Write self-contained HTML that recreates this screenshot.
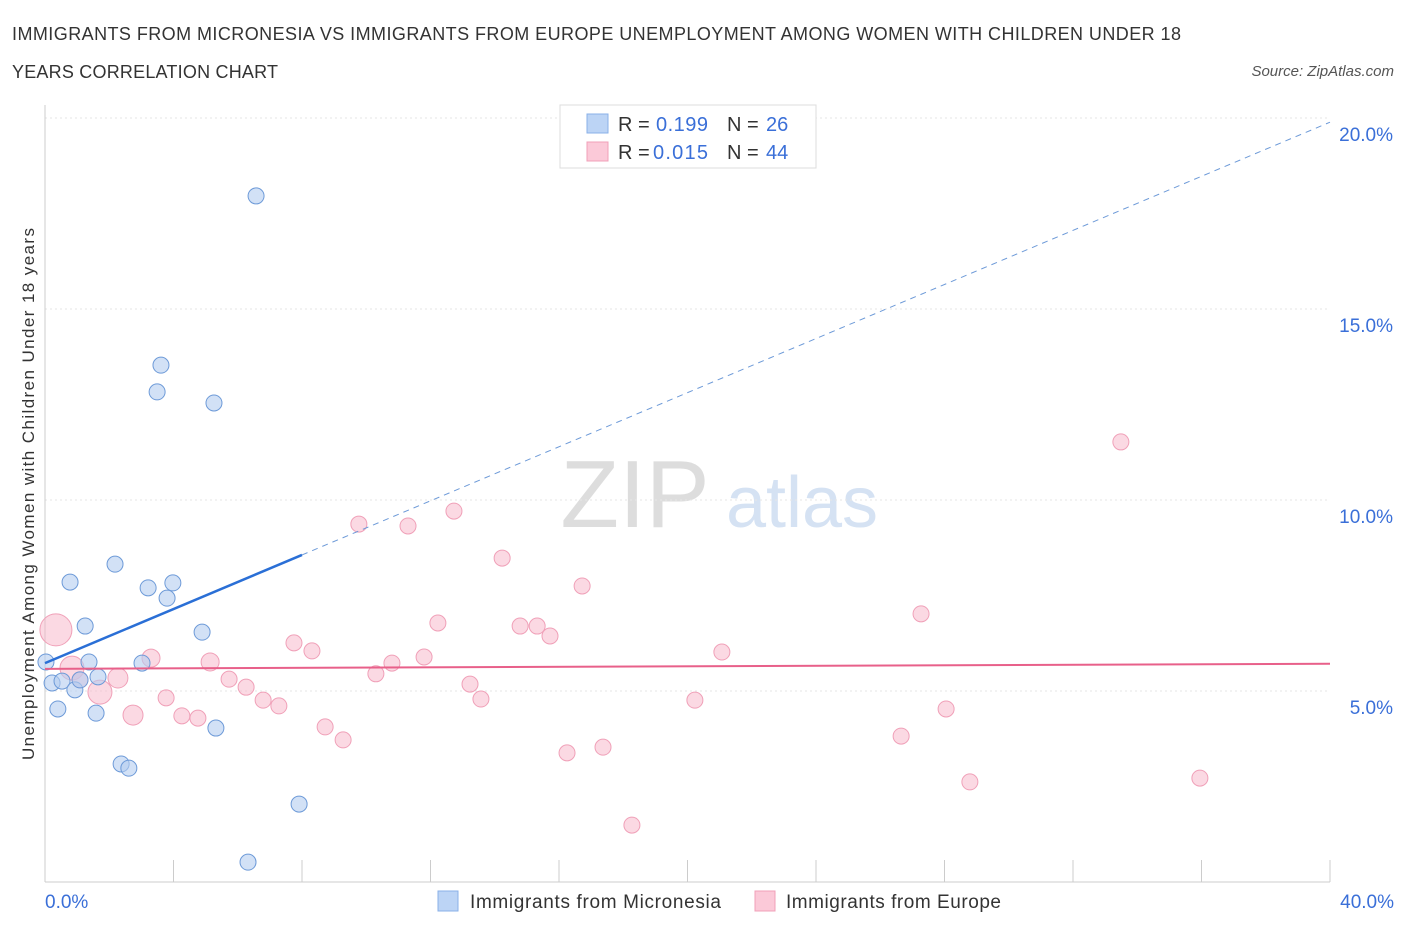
<!DOCTYPE html>
<html><head><meta charset="utf-8"><style>
body{margin:0;background:#fff;font-family:"Liberation Sans",sans-serif;}
svg text{font-family:"Liberation Sans",sans-serif;}
</style></head><body>
<svg id="c" width="1406" height="930" xmlns="http://www.w3.org/2000/svg">
<text x="12" y="40" font-size="18" fill="#333" textLength="1169">IMMIGRANTS FROM MICRONESIA VS IMMIGRANTS FROM EUROPE UNEMPLOYMENT AMONG WOMEN WITH CHILDREN UNDER 18</text>
<text x="12" y="78" font-size="18" fill="#333" textLength="266">YEARS CORRELATION CHART</text>
<text x="1394" y="76" font-size="15" fill="#555" font-style="italic" text-anchor="end">Source: ZipAtlas.com</text>
<text x="635" y="527" font-size="96" fill="#ddd" font-family="Liberation Serif" text-anchor="middle">ZIP</text>
<text x="802" y="527" font-size="72" fill="#d5e2f3" text-anchor="middle">atlas</text>
<g id="grid"></g><g id="marks"></g>
<text transform="translate(34,494) rotate(-90)" font-size="17" fill="#333" text-anchor="middle" textLength="532">Unemployment Among Women with Children Under 18 years</text>
<text x="45" y="908" font-size="19" fill="#3a6fd8">0.0%</text>
<text x="1394" y="908" font-size="19" fill="#3a6fd8" text-anchor="end">40.0%</text>
<rect x="560" y="105" width="256" height="63" fill="#fff" stroke="#ddd"/>
<rect x="587" y="114" width="21" height="19" fill="#bcd4f5" stroke="#8ab0e8"/>
<rect x="587" y="142" width="21" height="19" fill="#fbc9d8" stroke="#f0a0b8"/>
<text y="131" font-size="20" fill="#333"><tspan x="618">R =</tspan><tspan x="656" fill="#3a6fd8" textLength="52">0.199</tspan><tspan x="727">N =</tspan><tspan x="766" fill="#3a6fd8">26</tspan></text>
<text y="159" font-size="20" fill="#333"><tspan x="618">R =</tspan><tspan x="653" fill="#3a6fd8" textLength="55">0.015</tspan><tspan x="727">N =</tspan><tspan x="766" fill="#3a6fd8">44</tspan></text>
<rect x="438" y="891" width="20" height="20" fill="#bcd4f5" stroke="#8ab0e8"/>
<text x="470" y="908" font-size="19" fill="#333" textLength="251">Immigrants from Micronesia</text>
<rect x="755" y="891" width="20" height="20" fill="#fbc9d8" stroke="#f0a0b8"/>
<text x="786" y="908" font-size="19" fill="#333" textLength="215">Immigrants from Europe</text>
</svg>
<script>
const yTicks=[5,10,15,20];
const yTickLabels=["5.0%","10.0%","15.0%","20.0%"];
const xTicks=[0,4,8,12,16,20,24,28,32,36,40];
const blueX=[6.57,3.61,3.49,5.26,2.18,0.78,3.21,3.98,3.80,1.25,4.89,3.02,1.37,0.03,0.22,0.53,1.65,0.93,1.09,0.40,1.59,5.32,2.37,2.61,7.91,6.32];
const blueY=[17.96,13.53,12.83,12.54,8.32,7.85,7.70,7.83,7.43,6.70,6.54,5.73,5.76,5.76,5.21,5.26,5.37,5.03,5.29,4.53,4.42,4.03,3.09,2.98,2.04,0.52];
const pinkX=[0.34,0.84,1.71,2.27,1.09,3.30,2.74,3.77,4.26,4.76,5.14,5.73,6.26,6.79,7.28,7.75,8.31,8.72,9.28,9.77,10.30,10.80,11.30,11.80,12.23,12.73,13.23,13.57,14.23,14.79,15.32,15.72,16.25,16.72,17.37,18.27,20.23,21.07,26.65,27.27,28.05,28.79,33.49,35.95];
const pinkY=[6.60,5.60,4.97,5.34,5.29,5.86,4.37,4.82,4.35,4.29,5.76,5.31,5.10,4.76,4.61,6.26,6.05,4.06,3.72,9.37,5.45,5.73,9.32,5.89,6.78,9.71,5.18,4.79,8.48,6.70,6.70,6.44,3.38,7.75,3.53,1.49,4.76,6.02,3.82,7.02,4.53,2.62,11.52,2.72];
const pinkR=[16,12,12,10,8,9,10,8,8,8,9,8,8,8,8,8,8,8,8,8,8,8,8,8,8,8,8,8,8,8,8,8,8,8,8,8,8,8,8,8,8,8,8,8];
const blueFit=[5.73,0.354];
const pinkFit=[5.58,0.0033];
const NS="http://www.w3.org/2000/svg";
const X=v=>45+v*32.125, Y=v=>882-v*38.2;
const grid=document.getElementById('grid'), marks=document.getElementById('marks');
function mk(p,t,a){const e=document.createElementNS(NS,t);for(const k in a)e.setAttribute(k,a[k]);p.appendChild(e);return e;}
yTicks.forEach((t,i)=>{
 const l=mk(grid,'line',{x1:45,x2:1330,y1:Y(t),y2:Y(t),stroke:'#e6e6e6','stroke-dasharray':'2,3'});
 
 
 const tx=mk(grid,'text',{x:1393,y:Y(t)+23,'font-size':19,fill:'#3a6fd8','text-anchor':'end'});tx.textContent=yTickLabels[i];
 
 
});
const ax=mk(grid,'line',{x1:45,x2:45,y1:105,y2:882,stroke:'#ccc'});


const bx=mk(grid,'line',{x1:45,x2:1330,y1:882,y2:882,stroke:'#ccc'});


xTicks.forEach(t=>{const l=mk(grid,'line',{x1:X(t),x2:X(t),y1:860,y2:882,stroke:'#ccc'});
 
 });
pinkX.forEach((x,i)=>{const c=mk(marks,'circle',{cx:X(x),cy:Y(pinkY[i]),r:pinkR[i],fill:'rgba(248,180,200,0.5)',stroke:'#f0a0b8','stroke-width':1});
 
 });
blueX.forEach((x,i)=>{const c=mk(marks,'circle',{cx:X(x),cy:Y(blueY[i]),r:8,fill:'rgba(180,205,240,0.6)',stroke:'#6d9ad8','stroke-width':1});
 
 });
const bf=x=>blueFit[0]+blueFit[1]*x;
const l1=mk(marks,'line',{x1:X(0),y1:Y(bf(0)),x2:X(8),y2:Y(bf(8)),stroke:'#2a6fd6','stroke-width':2.5});


const l2=mk(marks,'line',{x1:X(8),y1:Y(bf(8)),x2:X(40),y2:Y(bf(40)),stroke:'#6d9ad8','stroke-width':1,'stroke-dasharray':'6,5'});


const pf=x=>pinkFit[0]+pinkFit[1]*x;
const l3=mk(marks,'line',{x1:X(0),y1:Y(pf(0)),x2:X(40),y2:Y(pf(40)),stroke:'#e8608a','stroke-width':2});


</script>
</body></html>
